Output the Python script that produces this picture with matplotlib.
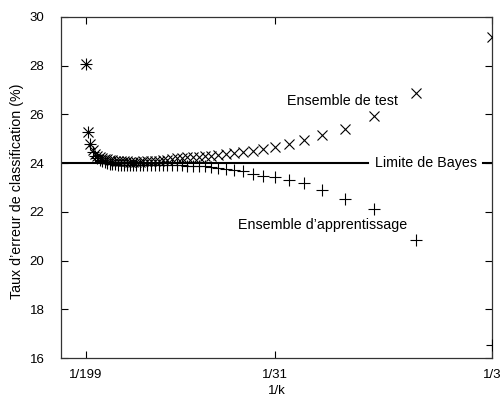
import numpy as np
import matplotlib
matplotlib.use("Agg")
import matplotlib.pyplot as plt

plt.rcParams['font.family'] = ['Liberation Sans', 'DejaVu Sans']

# k values (odd, step 4) from 199 down to 3
k_values = list(range(199, 2, -4))

test_error = [28.05, 25.29, 24.78, 24.52, 24.38, 24.30, 24.25, 24.21, 24.18, 24.15,
              24.13, 24.11, 24.10, 24.09, 24.08, 24.07, 24.07, 24.06, 24.06, 24.06,
              24.06, 24.07, 24.07, 24.08, 24.09, 24.10, 24.12, 24.14, 24.17, 24.19,
              24.21, 24.23, 24.24, 24.25, 24.28, 24.30, 24.33, 24.36, 24.40, 24.44,
              24.49, 24.57, 24.65, 24.78, 24.93, 25.14, 25.41, 25.92, 26.88, 29.18]

train_error = [28.05, 25.29, 24.78, 24.45, 24.30, 24.20, 24.12, 24.07, 24.03, 24.00,
               23.98, 23.96, 23.95, 23.94, 23.94, 23.93, 23.93, 23.93, 23.93, 23.93,
               23.93, 23.93, 23.93, 23.93, 23.93, 23.93, 23.93, 23.92, 23.92, 23.92,
               23.91, 23.90, 23.90, 23.89, 23.87, 23.84, 23.79, 23.75, 23.71, 23.66,
               23.57, 23.47, 23.41, 23.30, 23.18, 22.90, 22.52, 22.10, 20.86, 16.53]

bayes_limit = 24.0

x_tick_k = [199, 31, 3]
x_tick_labels = ['1/199', '1/31', '1/3']
y_ticks = [16, 18, 20, 22, 24, 26, 28, 30]

P = 0.043


def fwd(x):
    x = np.clip(np.asarray(x, dtype=float), 1e-12, None)
    return -x ** (-P)


def inv(y):
    y = np.clip(-np.asarray(y, dtype=float), 1e-12, None)
    return y ** (-1.0 / P)


inv_k = [1.0 / k for k in k_values]

fig = plt.figure(figsize=(5.0, 3.98), dpi=100)
ax = fig.add_axes([0.122, 0.1005, 0.862, 0.857])
ax.set_xscale('function', functions=(fwd, inv))
ax.set_xlim(1.0 / 252, 1.0 / 3)
ax.set_ylim(16, 30)

LABEL_FS = 10.3

# Bayes limit line (broken around its label)
ax.plot([0, 0.712], [bayes_limit, bayes_limit], color='black', lw=1.5,
        transform=ax.get_yaxis_transform(), zorder=2)
ax.plot([0.979, 1.0], [bayes_limit, bayes_limit], color='black', lw=1.5,
        transform=ax.get_yaxis_transform(), zorder=2)
ax.text(0.966, bayes_limit, 'Limite de Bayes', transform=ax.get_yaxis_transform(),
        ha='right', va='center', fontsize=LABEL_FS)

ax.plot(inv_k, test_error, linestyle='none', marker='x', color='black',
        markersize=7.2, markeredgewidth=0.8, zorder=3)
ax.plot(inv_k, train_error, linestyle='none', marker='+', color='black',
        markersize=8.5, markeredgewidth=0.8, zorder=3)

ax.text(0.782, 26.55, 'Ensemble de test', transform=ax.get_yaxis_transform(),
        ha='right', va='center', fontsize=LABEL_FS)
ax.text(0.803, 21.44, 'Ensemble d’apprentissage', transform=ax.get_yaxis_transform(),
        ha='right', va='center', fontsize=LABEL_FS)

ax.set_xticks([1.0 / k for k in x_tick_k])
ax.set_xticklabels(x_tick_labels)
ax.xaxis.set_minor_locator(matplotlib.ticker.NullLocator())
ax.set_yticks(y_ticks)
ax.set_yticklabels([str(v) for v in y_ticks])
ax.tick_params(direction='in', length=5, width=0.8, top=True, right=True,
               labelsize=9.5, colors='black', pad=8)
ax.tick_params(axis='y', pad=12)

for s in ax.spines.values():
    s.set_linewidth(0.9)
    s.set_color('#333333')

ax.set_xlabel('1/k', fontsize=9.5, labelpad=3)
ax.set_ylabel('Taux d’erreur de classification (%)', fontsize=LABEL_FS, va='center')
ax.yaxis.set_label_coords(-0.102, 0.488)

fig.savefig('out.png', dpi=100)
